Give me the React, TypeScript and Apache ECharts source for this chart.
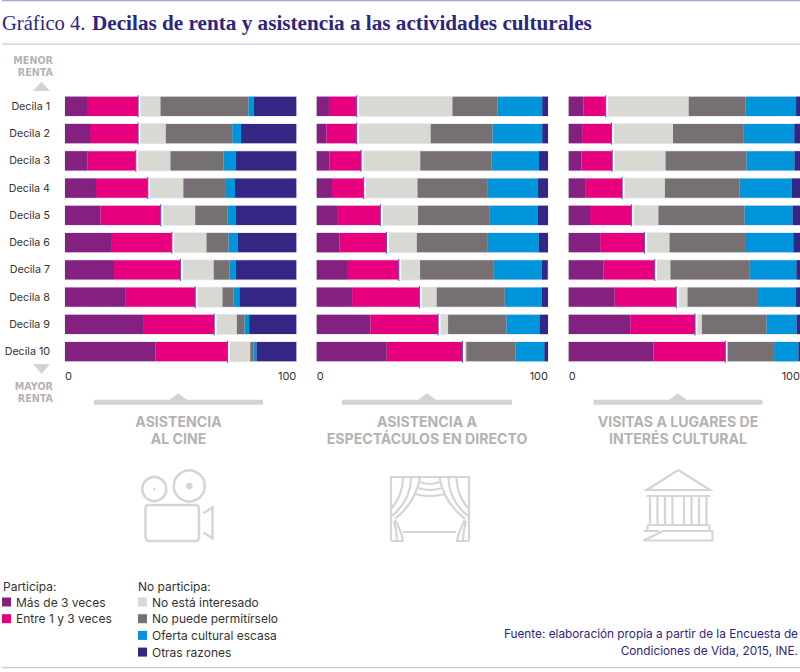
import React, { useEffect, useRef } from "react";
import * as echarts from "echarts";

const deciles = ["Decila 1","Decila 2","Decila 3","Decila 4","Decila 5","Decila 6","Decila 7","Decila 8","Decila 9","Decila 10"];
const seriesNames = ["Más de 3 veces","Entre 1 y 3 veces","No está interesado","No puede permitírselo","Oferta cultural escasa","Otras razones"];
const seriesColors = ["#84207f","#e6007e","#d9d9d4","#767072","#0095db","#332783"];
const axisTicks = [0, 100];

const cineMas3 = [9.5,10.8,9.8,13.4,15.3,19.9,21.2,26,34.1,39.1];
const cineEntre = [22.1,20.8,20.8,22.4,26.1,26.3,28.7,30.3,30.4,31.2];
const cineInteres = [9.7,12,15,15.4,14.9,15,14.4,11.8,9.8,9.8];
const cinePermitir = [38,28.7,22.9,18,13.9,9.5,6.8,4.8,3.3,1.4];
const cineOferta = [2.3,3.8,5.3,4.3,3.6,4,2.7,2.5,2,1.3];
const cineOtras = [18.4,23.9,26.2,26.5,26.2,25.3,26.2,24.6,20.4,17.2];

const directoMas3 = [5.3,4.2,5.5,6.6,8.8,9.9,13.5,15.3,23.2,30.3];
const directoEntre = [12,13.1,13.7,13.7,18.7,20.3,22,29.1,29.3,32.7];
const directoInteres = [41.4,32,25.6,23.3,16.3,13.1,9.2,7.5,4.3,1.7];
const directoPermitir = [19.5,26.7,30.8,30.1,30.8,30.7,31.6,29.4,25.2,21.3];
const directoOferta = [19.3,21.5,20.5,22,21,22,21,16.1,14.3,12.4];
const directoOtras = [2.5,2.5,3.9,4.3,4.4,4,2.6,2.6,3.7,1.6];

const visitasMas3 = [6.3,5.8,5.5,7.1,9.2,13.6,15,19.9,26.6,36.7];
const visitasEntre = [9.7,12.7,13.3,16,17.9,19.2,22.2,26.6,28,31];
const visitasInteres = [35.9,26.6,23.1,18.5,11.7,10.8,6.8,4.9,3,0.7];
const visitasPermitir = [24.5,30.6,34.9,32.3,37.2,32.6,34.3,30,27.9,20.4];
const visitasOferta = [21.9,21.8,20.8,22.5,20.8,20.9,20.1,16.7,13,10.5];
const visitasOtras = [1.7,2.5,2.4,3.6,3.2,2.9,1.6,1.9,1.5,0.7];

const panels = [
  [cineMas3, cineEntre, cineInteres, cinePermitir, cineOferta, cineOtras],
  [directoMas3, directoEntre, directoInteres, directoPermitir, directoOferta, directoOtras],
  [visitasMas3, visitasEntre, visitasInteres, visitasPermitir, visitasOferta, visitasOtras],
];
const panelLefts = [65, 316.7, 568.7];
const panelTitles = [["ASISTENCIA","AL CINE"],["ASISTENCIA A","ESPECTÁCULOS EN DIRECTO"],["VISITAS A LUGARES DE","INTERÉS CULTURAL"]];
const panelCenters = [178.5, 427, 678];
const bracketRanges = [[94,263],[342,512],[593.5,762.5]];

const SANS = "Inter";
const INK = "#2e2580";
const GREY = "#b5b2b2";
const ICON = "#d5d5d7";
const BAND = "#d3d2d6";

echarts.graphic.registerShape("cameraIcon", echarts.graphic.extendPath(
  "M149 505 H195 Q199 505 199 509 V537 Q199 541 195 541 H149 Q145.5 541 145.5 537 V509 Q145.5 505 149 505 Z M203.5 513 L212.5 507.5 V538.5 L203.5 532.5", {}) as any);
echarts.graphic.registerShape("curtainIcon", echarts.graphic.extendPath(
  "M391 541 V477 H469 V541 M391 541 H404 M456 541 H469 M403 532 H456 " +
  "M420 477 C418 490 412 505 395 519 M411 477 C411 492 405 505 392 516 M403 477 C403 490 399 500 391 509 " +
  "M395 520 C399 527 402 534 403 541 M394 521 C396 528 397 535 397 541 " +
  "M439.5 477 C441.5 490 447.5 505 465 519 M448.5 477 C448.5 492 454.5 505 468 516 M456.5 477 C456.5 490 460.5 500 469 509 " +
  "M465 520 C461 527 458 534 457 541 M466 521 C464 528 463 535 463 541 " +
  "M420 482 Q430 486 439.5 482 M418 488 Q430 492 442 488 M415 494 Q430 498 445 494", {}) as any);
echarts.graphic.registerShape("templeIcon", echarts.graphic.extendPath(
  "M678.3 470 L710 490 H646.7 Z M646.7 496 H710 " +
  "M650 497 V524 M657.5 497 V524 M665 497 V524 M672.5 497 V524 M684 497 V524 M691.5 497 V524 M699 497 V524 M706.5 497 V524 " +
  "M647.5 525 H709.5 M647.5 525 V531 M709.5 525 V531 M643.5 531 H659 M663 531 H712.5 V540.5 H643.5 Z", {}) as any);

function label(text: string, x: number, y: number, style: any) {
  return { type: "text", x, y, silent: true, style: { text, fontFamily: SANS, verticalAlign: "middle", ...style } };
}
function rule(y: number, color: string) {
  return { type: "rect", shape: { x: 2, y, width: 798, height: 1.3 }, silent: true, style: { fill: color } };
}
function triangle(points: number[][], fill: string) {
  return { type: "polygon", shape: { points }, silent: true, style: { fill } };
}

function buildOption() {
  const grid = panelLefts.map((left) => ({ left, width: 231.3, top: 92.7, height: 272.6, outerBoundsMode: "none" }));
  const xAxis = panelLefts.map((_, g) => ({
    type: "value", gridIndex: g, min: axisTicks[0], max: axisTicks[1], interval: axisTicks[1],
    axisLine: { show: false }, axisTick: { show: false }, splitLine: { show: false },
    axisLabel: { fontFamily: SANS, fontSize: 11, color: "#333333", margin: 5.5, alignMinLabel: "left", alignMaxLabel: "right" },
  }));
  const yAxis = panelLefts.map((_, g) => ({
    type: "category", gridIndex: g, data: deciles, inverse: true,
    axisLine: { show: false }, axisTick: { show: false }, splitLine: { show: false },
    axisLabel: { show: g === 0, fontFamily: SANS, fontSize: 10.7, color: "#333333", margin: 15, padding: [0, 0, 3, 0] },
  }));
  const series: any[] = [];
  panels.forEach((panel, g) => {
    series.push({
      type: "scatter", name: "halo" + g, xAxisIndex: g, yAxisIndex: g, symbol: "rect", symbolSize: [232.3, 20.8],
      data: deciles.map((_, i) => [axisTicks[1] / 2, i]), itemStyle: { color: "#e6e4f1", opacity: 1 }, silent: true, z: 1,
    });
    panel.forEach((values, s) => {
      series.push({
        type: "bar", name: seriesNames[s], xAxisIndex: g, yAxisIndex: g, stack: "p" + g,
        barWidth: 19.4, data: values, itemStyle: { color: seriesColors[s] }, emphasis: { disabled: true }, z: 3,
      });
    });
    const boundary = panel[0].map((v, i) => v + panel[1][i]);
    series.push({
      type: "scatter", name: "sep" + g, xAxisIndex: g, yAxisIndex: g, symbol: "rect", symbolSize: [2, 19.4], symbolOffset: [1.3, 0],
      data: boundary.map((v, i) => [v, i]), itemStyle: { color: "#ffffff", opacity: 1 }, silent: true, z: 4,
    });
    series.push({
      type: "scatter", name: "line" + g, xAxisIndex: g, yAxisIndex: g, symbol: "rect", symbolSize: [1, 22],
      data: boundary.map((v, i) => [v, i]), itemStyle: { color: "#4d52a8", opacity: 1 }, silent: true, z: 5,
    });
  });

  const side = { fontFamily: "DejaVu Sans", fontSize: 9.6, fontWeight: 700, fill: GREY, align: "right" };
  const graphic: any[] = [
    rule(0, "#aaa5d2"), rule(43.5, "#c9c6e0"), rule(667, "#c9c6e0"),
    label("Gráfico 4.", 2, 23, { fontFamily: "Liberation Serif", fontSize: 20.6, fill: INK }),
    label("Decilas de renta y asistencia a las actividades culturales", 92, 23, { fontFamily: "Liberation Serif", fontWeight: 700, fontSize: 21.2, fill: INK }),
    label("MENOR", 53, 60.5, side),
    label("RENTA", 53, 72.2, side),
    label("MAYOR", 53, 386.8, side),
    label("RENTA", 53, 398.5, side),
    triangle([[41.5, 81.7], [50, 91], [33, 91]], BAND),
    triangle([[33, 364], [50, 364], [41.5, 374]], BAND),
    label("Participa:", 3, 586, { fontSize: 12, fill: "#333333" }),
    label("No participa:", 138, 586, { fontSize: 12, fill: "#333333" }),
    label("Fuente: elaboración propia a partir de la Encuesta de", 798, 634, { fontSize: 11.8, fill: INK, align: "right" }),
    label("Condiciones de Vida, 2015, INE.", 798, 651, { fontSize: 11.8, fill: INK, align: "right" }),
    { type: "cameraIcon", silent: true, style: { fill: "none", stroke: ICON, lineWidth: 2.5 } },
    { type: "circle", shape: { cx: 154.3, cy: 489, r: 12 }, silent: true, style: { fill: "none", stroke: ICON, lineWidth: 2.5 } },
    { type: "circle", shape: { cx: 189.3, cy: 486, r: 15.5 }, silent: true, style: { fill: "none", stroke: ICON, lineWidth: 2.5 } },
    { type: "circle", shape: { cx: 154.3, cy: 489, r: 1.4 }, silent: true, style: { fill: ICON } },
    { type: "circle", shape: { cx: 189.3, cy: 486, r: 3.4 }, silent: true, style: { fill: ICON } },
    { type: "curtainIcon", silent: true, style: { fill: "none", stroke: ICON, lineWidth: 2.2 } },
    { type: "templeIcon", silent: true, style: { fill: "none", stroke: ICON, lineWidth: 2.2 } },
  ];
  panelTitles.forEach((lines, i) => {
    const cx = panelCenters[i];
    const [a, b] = bracketRanges[i];
    graphic.push({ type: "rect", shape: { x: a, y: 399.7, width: b - a, height: 5 }, silent: true, style: { fill: BAND } });
    graphic.push(triangle([[cx, 393.3], [cx + 9, 400], [cx - 9, 400]], BAND));
    lines.forEach((t, j) => graphic.push(label(t, cx, 421.5 + j * 17, { fontSize: 14.1, fontWeight: 700, fill: GREY, align: "center" })));
  });

  const legendBase = { orient: "vertical", padding: 0, itemWidth: 9, itemHeight: 9, itemGap: 2.7, icon: "rect", selectedMode: false,
    textStyle: { fontFamily: SANS, fontSize: 12, color: "#333333", lineHeight: 14 } };
  const legend = [
    { ...legendBase, left: 2, top: 595, data: seriesNames.slice(0, 2) },
    { ...legendBase, left: 138, top: 595, data: seriesNames.slice(2) },
  ];
  return { animation: false, grid, xAxis, yAxis, series, graphic, legend };
}

export default function App() {
  const ref = useRef<HTMLDivElement>(null);
  useEffect(() => {
    const chart = echarts.init(ref.current!, undefined, { renderer: "svg" });
    chart.setOption(buildOption() as any);
    return () => chart.dispose();
  }, []);
  return <div ref={ref} style={{ position: "absolute", left: 0, top: 0, width: 800, height: 672, background: "#fff" }} />;
}
